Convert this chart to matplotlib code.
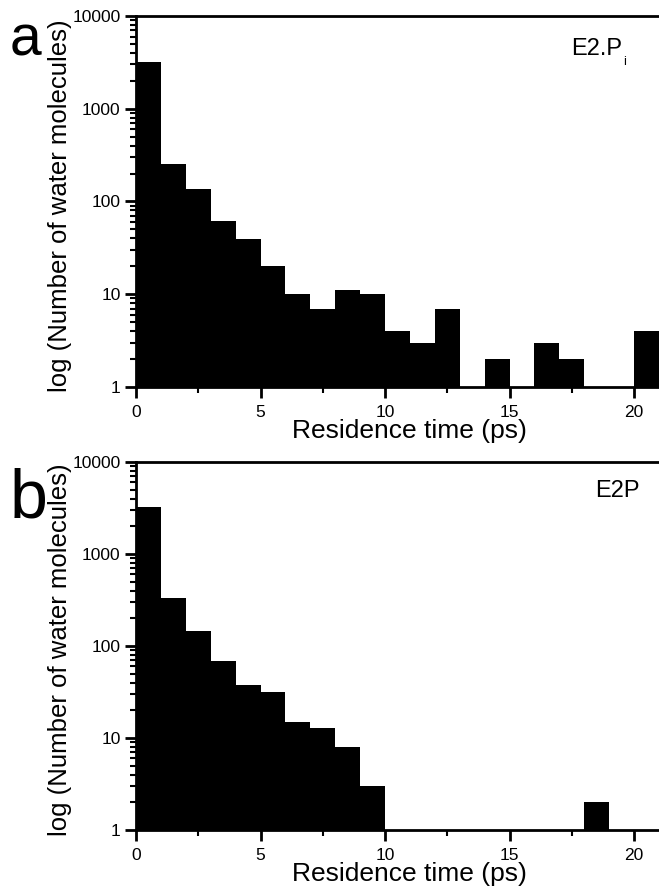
import numpy as np
import matplotlib
matplotlib.use('Agg')
import matplotlib.pyplot as plt
from matplotlib.ticker import FixedLocator, LogLocator, FuncFormatter

plt.rcParams['font.family'] = ['Liberation Sans', 'DejaVu Sans']

# residence time bins (ps), 1 ps wide
bin_edges = list(range(0, 22))

# counts per bin
counts_e2pi = [3200, 255, 136, 62, 39, 20, 10, 7, 11, 10, 4, 3, 7, 0, 2, 0, 3, 2, 0, 0, 4]
counts_e2p = [3250, 335, 144, 69, 38, 32, 15, 13, 8, 3, 0, 0, 0, 0, 0, 0, 0, 0, 2, 0, 0]

panel_letters = ['a', 'b']
state_labels = ['E2.P', 'E2P']

W, H = 659, 888
fig = plt.figure(figsize=(W / 100, H / 100), dpi=100)

# axes boxes in pixels: left, top, bottom
px_left = 136
px_per_ps = 24.9
boxes = [(16, 387), (462, 830)]


def setup_axis(ax):
    ax.set_yscale('log')
    ax.set_ylim(1, 10000)
    ax.set_xlim(0, 22)
    ax.yaxis.set_major_locator(FixedLocator([1, 10, 100, 1000, 10000]))
    ax.yaxis.set_minor_locator(LogLocator(base=10, subs=np.arange(2, 10)))
    ax.yaxis.set_major_formatter(FuncFormatter(lambda v, p: '%d' % v))
    ax.xaxis.set_major_locator(FixedLocator([0, 5, 10, 15, 20]))
    ax.xaxis.set_minor_locator(FixedLocator([2.5, 7.5, 12.5, 17.5]))
    ax.tick_params(which='major', direction='out', length=8, width=2, labelsize=12.5)
    ax.tick_params(which='minor', direction='out', length=4, width=1.5)
    ax.tick_params(axis='y', which='major', pad=3)
    ax.tick_params(axis='x', which='major', pad=5)
    for s in ['left', 'bottom', 'top']:
        ax.spines[s].set_linewidth(2)
    ax.spines['right'].set_visible(False)
    ax.set_xlabel('Residence time (ps)', fontsize=19, labelpad=-1)
    ax.set_ylabel('log (Number of water molecules)', fontsize=18.5)
    ax.yaxis.set_label_coords(-0.116, 0.49)


axes = []
for (top, bottom) in boxes:
    ax = fig.add_axes([px_left / W, 1 - bottom / H,
                       22 * px_per_ps / W, (bottom - top) / H])
    setup_axis(ax)
    axes.append(ax)

axes[0].bar(bin_edges[:-1], counts_e2pi, width=1, align='edge', color='black', linewidth=0)
axes[1].bar(bin_edges[:-1], counts_e2p, width=1, align='edge', color='black', linewidth=0)

# state labels (axes fraction of the 22 ps wide box)
fx = lambda px: (px - px_left) / (22 * px_per_ps)
axes[0].text(fx(622), 0.895, state_labels[0], transform=axes[0].transAxes,
             ha='right', va='baseline', fontsize=17)
axes[0].text(fx(623.5), 0.868, 'i', transform=axes[0].transAxes,
             ha='left', va='baseline', fontsize=9)
axes[1].text(fx(640), 0.905, state_labels[1], transform=axes[1].transAxes,
             ha='right', va='baseline', fontsize=17)

# panel letters
fig.text(10 / W, 1 - 55 / H, panel_letters[0], fontsize=41, ha='left', va='baseline')
fig.text(10 / W, 1 - 517 / H, panel_letters[1], fontsize=49, ha='left', va='baseline')

fig.savefig('out.png', dpi=100)
